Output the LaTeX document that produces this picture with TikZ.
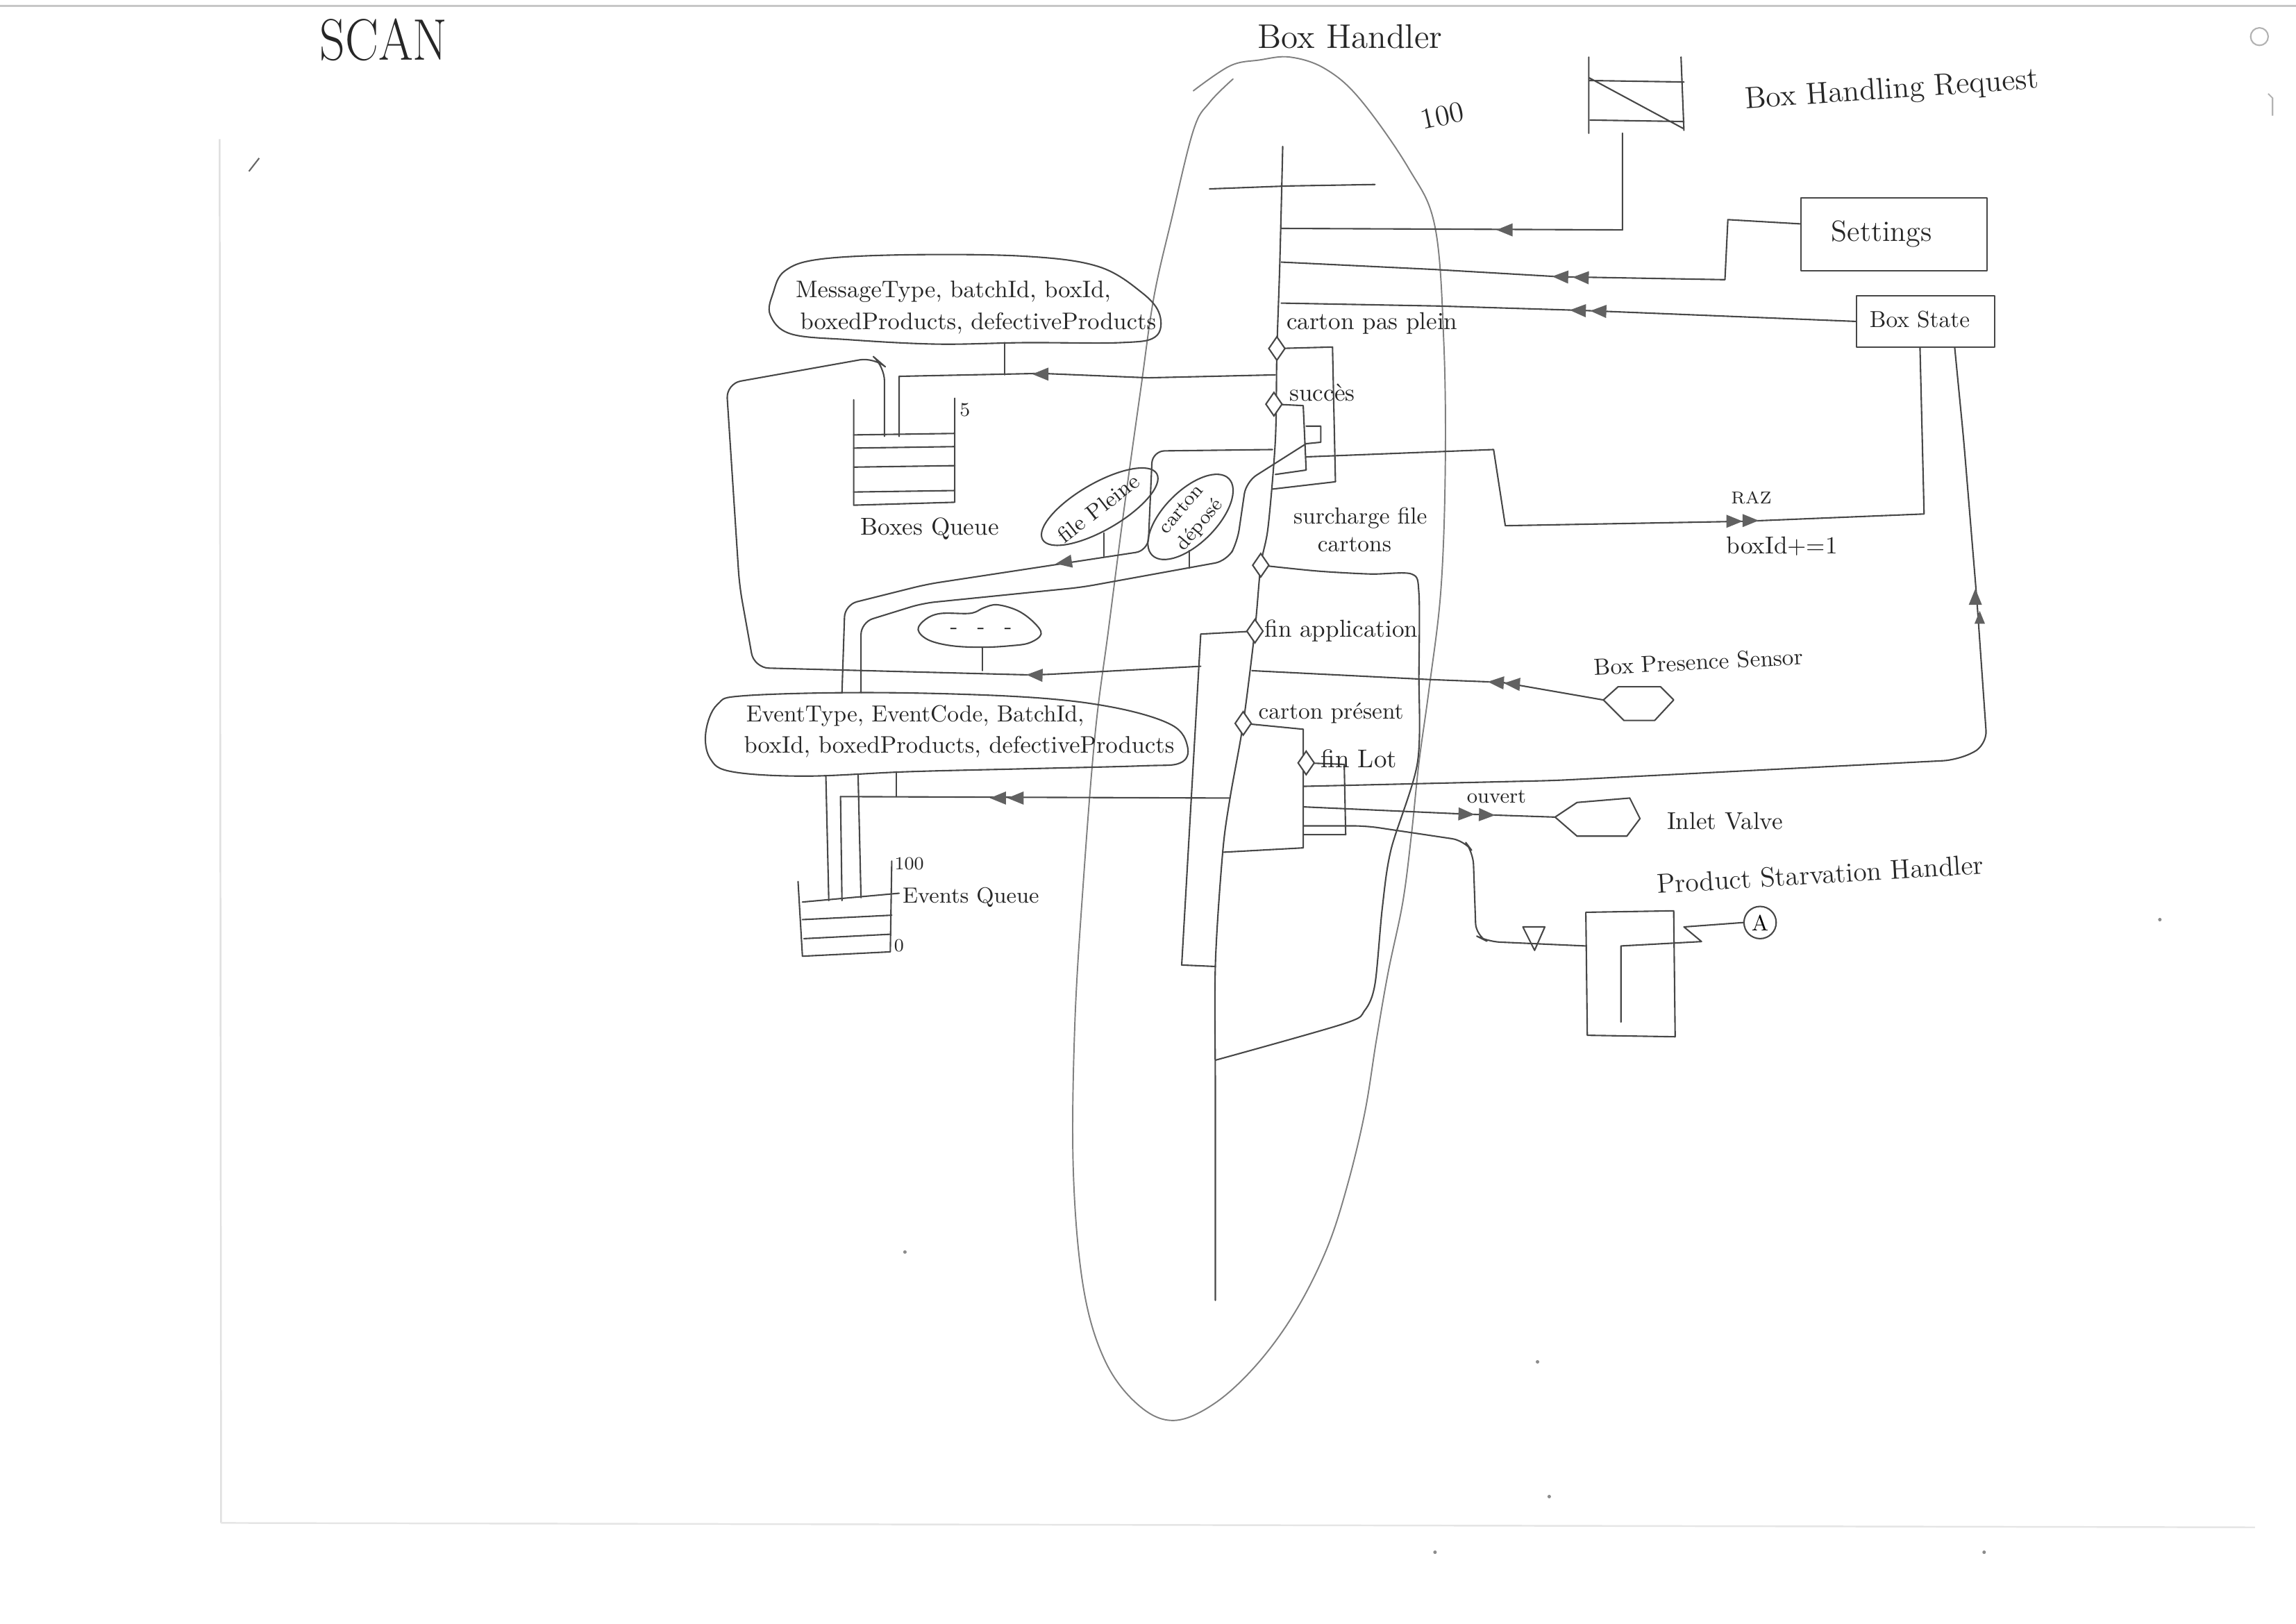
\documentclass[tikz,border=0pt]{standalone}
\usepackage{fontspec}
\usetikzlibrary{calc}
\tikzset{
  pen/.style={draw=black!72, line width=0.6pt, line cap=round, line join=round},
  lite/.style={draw=black!50, line width=0.55pt, line cap=round, line join=round},
  faint/.style={draw=black!22, line width=0.7pt},
  lbl/.style={inner sep=0pt, text=black!85},
  tip/.pic={\fill[black!62] (6,0) -- (-5,-4.5) -- (-5,4.5) -- cycle;},
  dia/.pic={\draw[black!72, line width=0.6pt, fill=white] (0,-8) -- (5.5,0) -- (0,8) -- (-5.5,0) -- cycle;},
}
\newcommand\fsz[1]{\fontsize{#1}{#1}\selectfont}
\begin{document}
\begin{tikzpicture}[x=0.02109cm, y=-0.02109cm]
\useasboundingbox (0,0) rectangle (1568,1109);

% paper artefacts
\draw[faint] (0,4) -- (1568,4);
\draw[faint, draw=black!12] (150,95) -- (151,1040);
\draw[faint, draw=black!10] (151,1040) -- (1540,1043);
\draw[black!30, line width=0.6pt] (1543,25) circle (6);
\draw[black!30, line width=0.6pt] (1549,64) -- (1552,67) -- (1552,79);
\draw[black!60, line width=0.6pt] (170,117) -- (177,108);
\foreach \p in {(618,855),(1050,930),(1058,1022),(1475,628),(980,1060),(1355,1060)} \fill[black!45] \p circle (1.2);

% titles
\node[lbl, font=\fsz{24}] (scan) at (262,27) {\scalebox{0.85}[1]{SCAN}};
\node[lbl, font=\fsz{14}] (bhT) at (922,25) {Box Handler};
\node[lbl, font=\fsz{12}, rotate=12] (cap100) at (985,79) {100};

% Box Handler loop
\draw[lite] plot[smooth, tension=0.6] coordinates {(842,54) (826,70) (815,89) (800,150) (788,203) (779,266) (768,345) (757,430) (748,500) (740,600) (734,700) (733,800) (740,880) (755,930) (778,960) (802,970) (830,958) (859,931) (885,895) (906,853) (920,810) (932,760) (940,710) (948,664) (958,616) (964,569) (969,521) (976,470) (984,403) (987,320) (986,234) (980,155) (962,115) (929,68) (905,47) (881,39) (860,41) (840,45) (815,62)};

% spine
\draw[pen] plot[smooth, tension=0.5] coordinates {(876,100) (874,180) (872,240) (871,300) (866,360) (861,386) (857,430) (849,494) (840,545) (835,582) (830,659) (830,750) (830,888)};
\draw[pen] (826,129) -- (880,127) -- (939,126);

\coordinate (d1) at (872,238);
\coordinate (d2) at (870,276);
\coordinate (d3) at (861,386);
\coordinate (d4) at (857,431);
\coordinate (d5) at (849,494);
\coordinate (d6) at (892,521);

% Box Handling Request
\coordinate (bhrB) at (1108,91);
\draw[pen] (1085,39) -- (1085,91) (1148,39) -- (1150,89) (1085,55) -- (1150,56) (1086,82) -- (1150,83) (1085,53) -- (1150,88);
\node[lbl, font=\fsz{12.5}, rotate=4] (bhrT) at (1292,62) {Box Handling Request};
\draw[pen] (bhrB) -- (1108,157) -- (875,156);
\pic[rotate=180] at (1028,157) {tip};

% Settings
\node[pen, rectangle, minimum width=2.678cm, minimum height=1.055cm, inner sep=0pt] (set) at (1293.5,160) {};
\node[lbl, font=\fsz{12}] (setT) at (1285,160) {Settings};
\draw[pen] ([yshift=0.15cm]set.west) -- (1180,150) -- (1178,191) -- (1065,189) -- (979,184) -- (875,179);
\pic[rotate=178] at (1066,189) {tip};
\pic[rotate=178] at (1080,189.5) {tip};

% Box State
\node[pen, rectangle, minimum width=1.982cm, minimum height=0.738cm, inner sep=0pt] (bs) at (1315,219.5) {};
\node[lbl, font=\fsz{9.5}] (bsT) at (1311,218) {Box State};
\draw[pen] (bs.west) -- (1081,212) -- (983,209) -- (875,207);
\pic[rotate=178] at (1078,212) {tip};
\pic[rotate=178] at (1092,212.5) {tip};
\draw[pen] ([xshift=-0.08cm]bs.south) -- (1314,351) -- (1191,356) -- (1028,359) -- (1020,307) -- (892,312);
\pic at (1184,356) {tip};
\pic at (1195,355.5) {tip};
\node[lbl, font=\fsz{7}] (raz) at (1196,340) {RAZ};
\node[lbl, font=\fsz{10}] (inc) at (1217,373) {boxId+=1};
\draw[pen, rounded corners=6pt] ([xshift=0.42cm]bs.south) -- (1341,300) -- (1350,409) -- (1357,509) -- (1337,519) -- (1062,533) -- (890,537);
\pic[rotate=90] at (1349,408) {tip};
\pic[rotate=90, scale=0.8] at (1352,422) {tip};

% MessageType blob
\draw[pen] plot[smooth cycle, tension=0.6] coordinates {(528,200) (536,185) (560,177) (620,174) (700,175) (750,182) (780,200) (792,215) (789,230) (765,234) (700,234) (640,235) (580,232) (540,228) (526,215)};
\node[lbl, font=\fsz{9.8}] (msg1) at (651,199) {MessageType, batchId, boxId,};
\node[lbl, font=\fsz{9.8}] (msg2) at (668,221) {boxedProducts, defectiveProducts};
\draw[pen] (686,234) -- (686,256);
\draw[pen] (871,256) -- (784,258) -- (711,255) -- (614,257) -- (614,298);
\pic[rotate=180] at (711,255.5) {tip};

% Boxes Queue
\draw[pen] (583,273) -- (583,345) -- (652,343) -- (652,272);
\foreach \yy in {297,306,319,336} \draw[pen] (583,\yy) -- (652,\yy-1);
\node[lbl, font=\fsz{8}] (five) at (659,280) {5};
\node[lbl, font=\fsz{10}] (bq) at (635,361) {Boxes Queue};

% far left connector
\draw[pen, rounded corners=6pt] (820,455) -- (707,461) -- (515,456) -- (505,400) -- (496,262) -- (597,244) -- (604,250) -- (604,298);
\pic[rotate=178] at (707,461) {tip};

% dots blob
\draw[pen] plot[smooth cycle, tension=0.6] coordinates {(627,430) (632,423) (642,419) (660,419) (666,418) (672,415) (681,413) (695,417) (706,425) (711,433) (703,439) (690,441) (671,442) (650,441) (634,437)};
\node[lbl, font=\fsz{9}] (dots) at (670,431) {-\hspace{8pt}-\hspace{8pt}-};
\draw[pen] (671,442) -- (671,458);

% L1 and L2
\draw[pen, rounded corners=5pt] (575,473) -- (577,413) -- (633,399) -- (784,376) -- (787,308) -- (869,307);
\pic[rotate=189] at (727,384) {tip};
\draw[pen, rounded corners=5pt] (588,473) -- (588,425) -- (630,412) -- (739,401) -- (838,383) -- (845,370) -- (851,329) -- (892,303);

% label ellipses
\draw[pen, rotate around={30:(751,346)}] (751,346) ellipse [x radius=45, y radius=16];
\node[lbl, font=\fsz{9}, rotate=38] (fp) at (750,347) {file Pleine};
\draw[pen] (754,364) -- (754,380);
\draw[pen, rotate around={45:(813,353)}] (813,353) ellipse [x radius=37, y radius=18];
\node[lbl, font=\fsz{8}, rotate=50] (cd1) at (806.5,347.5) {carton};
\node[lbl, font=\fsz{8}, rotate=50] (cd2) at (819.5,358.5) {déposé};
\draw[pen] (812,376) -- (812,388);

% boxes on the spine
\draw[pen] (d1) -- (910,237) -- (912,329) -- (869,334);
\draw[pen] (d2) -- (890,277) -- (892,321) -- (871,324);
\draw[pen] (892,291) -- (902,291) -- (902,302) -- (892,303);
\draw[pen] plot[smooth, tension=0.5] coordinates {(861,386) (900,390) (936,392) (964,392) (969,405) (969,460) (968,521) (950,580) (944,620) (939,672) (932,690) (918,699) (830,724)};
\draw[pen] (d4) -- (820,433) -- (807,659) -- (830,660);
\draw[pen] (d5) -- (890,498) -- (890,579) -- (835,582);
\draw[pen] (d6) -- (918,522) -- (919,570) -- (890,570);
\foreach \d in {d1,d2,d3,d4,d5,d6} \pic at (\d) {dia};

\node[lbl, font=\fsz{10}] (cpp) at (937,221) {carton pas plein};
\node[lbl, font=\fsz{10}] (suc) at (903,268) {succès};
\node[lbl, font=\fsz{9.5}] (sfc1) at (929,354) {surcharge file};
\node[lbl, font=\fsz{9.5}] (sfc2) at (925,372) {cartons};
\node[lbl, font=\fsz{10}] (fapp) at (916,431) {fin application};
\node[lbl, font=\fsz{9.5}] (cpr) at (909,487) {carton présent};
\node[lbl, font=\fsz{10.5}] (flot) at (928,518) {fin Lot};

% Box Presence Sensor
\coordinate (bpsW) at (1095,478);
\draw[pen] (bpsW) -- (1105,469) -- (1134,469) -- (1143,478) -- (1130,492) -- (1109,492) -- cycle;
\node[lbl, font=\fsz{9.5}, rotate=3] (bpsT) at (1160,452) {Box Presence Sensor};
\draw[pen] (bpsW) -- (1026,466) -- (975,464) -- (855,458);
\pic[rotate=176] at (1022,466) {tip};
\pic[rotate=176] at (1033,467) {tip};

% Inlet Valve
\coordinate (ivW) at (1062,558);
\draw[pen] (ivW) -- (1077,548) -- (1113,545) -- (1120,559) -- (1111,571) -- (1077,571) -- cycle;
\draw[pen] (890,551) -- (1002,556) -- (ivW);
\pic[rotate=-2] at (1001,556) {tip};
\pic[rotate=-2] at (1015,556.5) {tip};
\node[lbl, font=\fsz{8.5}] (ouv) at (1022,544) {ouvert};
\node[lbl, font=\fsz{10}] (ivT) at (1178,561) {Inlet Valve};

% Product Starvation Handler
\draw[pen, rounded corners=5pt] (890,564) -- (933,564) -- (1000,574) -- (1006,582) -- (1008,639) -- (1016,643) -- (1083,646);
\draw[pen] (1040,633) -- (1055,633) -- (1048,649) -- cycle;
\draw[pen] (1083,623) -- (1143,622) -- (1144,708) -- (1084,707) -- cycle;
\node[pen, circle, minimum size=0.464cm, inner sep=0pt, font=\fsz{9}] (A) at (1202,630) {A};
\draw[pen] (1107,698) -- (1107,646) -- (1162,643) -- (1150,633) -- (A.west);
\node[lbl, font=\fsz{11.2}, rotate=3.5] (pshT) at (1243,597) {Product Starvation Handler};

% Events blob and queue
\draw[pen] plot[smooth cycle, tension=0.6] coordinates {(482,500) (490,481) (510,475) (600,473) (700,476) (760,483) (800,495) (811,510) (806,521) (780,523) (700,525) (620,527) (550,530) (500,527) (485,518)};
\node[lbl, font=\fsz{9.5}] (ev1) at (625,489) {EventType, EventCode, BatchId,};
\node[lbl, font=\fsz{9.8}] (ev2) at (655,510) {boxId, boxedProducts, defectiveProducts};
\draw[pen] (840,545) -- (574,544);
\pic[rotate=180] at (682,545) {tip};
\pic[rotate=180] at (694,545) {tip};
\draw[pen] (612,527) -- (612,544);
\draw[pen] (564,530) -- (566,615);
\draw[pen] (574,544) -- (575,615);
\draw[pen] (586,529) -- (588,613);
\draw[pen] (545,602) -- (548,653) -- (608,650) -- (609,588);
\draw[pen] (548,616) -- (614,610);
\draw[pen] (548,628) -- (609,625);
\draw[pen] (549,641) -- (608,638);
\node[lbl, font=\fsz{7.5}] (eq100) at (621,590) {100};
\node[lbl, font=\fsz{7.5}] (eq0) at (614,646) {0};
\node[lbl, font=\fsz{9}] (eqT) at (663,613) {Events Queue};
\end{tikzpicture}
\end{document}
